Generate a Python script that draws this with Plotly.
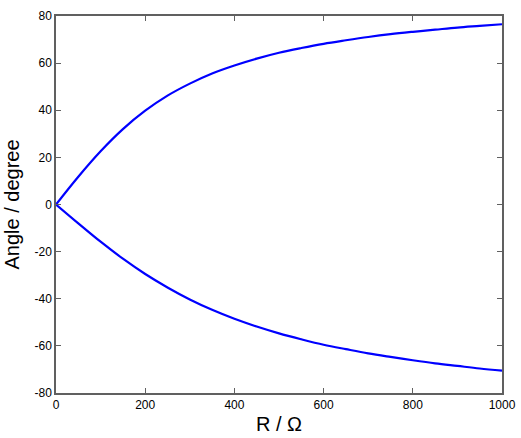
import plotly.graph_objects as go

R_values = [0, 50, 100, 150, 200, 250, 300, 350, 400, 450, 500, 550, 600, 650, 700, 750, 800, 850, 900, 950, 1000]
angle_upper = [0, 11.8, 22.6, 32.0, 39.8, 46.2, 51.3, 55.6, 59.0, 61.9, 64.4, 66.4, 68.2, 69.7, 71.1, 72.3, 73.3, 74.2, 75.1, 75.8, 76.5]
angle_lower = [0, -8.0, -15.8, -23.0, -29.5, -35.2, -40.3, -44.7, -48.5, -51.8, -54.7, -57.2, -59.5, -61.4, -63.2, -64.7, -66.1, -67.4, -68.5, -69.6, -70.5]
x_ticks = [0, 200, 400, 600, 800, 1000]
y_ticks = [-80, -60, -40, -20, 0, 20, 40, 60, 80]

fig = go.Figure()
for ys in (angle_upper, angle_lower):
    fig.add_trace(go.Scatter(x=R_values, y=ys, mode="lines",
                             line=dict(color="#0000ff", width=2.2, shape="spline"),
                             showlegend=False, hoverinfo="skip"))

axis_common = dict(showgrid=False, zeroline=False, showline=True, mirror="ticks",
                   linecolor="#606060", linewidth=1.5, ticks="inside", ticklen=5,
                   tickcolor="#606060", tickwidth=1, automargin=False,
                   tickfont=dict(family="Liberation Sans, Arial", size=12, color="#000000"))

fig.update_xaxes(range=[0, 1000], tickvals=x_ticks, ticktext=[str(v) for v in x_ticks], **axis_common,
                 title=dict(text="R / Ω", font=dict(family="Liberation Sans, Arial", size=20, color="#000000"),
                            standoff=6))
fig.update_yaxes(range=[-80, 80], tickvals=y_ticks, ticktext=[str(v) for v in y_ticks], **axis_common,
                 title=dict(text="Angle / degree", font=dict(family="Liberation Sans, Arial", size=20, color="#000000"),
                            standoff=10))

fig.update_layout(width=521, height=438, margin=dict(l=56, r=19, t=16, b=45),
                  paper_bgcolor="white", plot_bgcolor="white")

fig.write_html("out.html")
